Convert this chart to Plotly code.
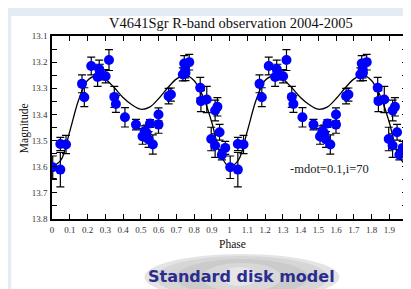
import numpy as np
import plotly.graph_objects as go

# ---- data (one cycle, phase 0-1; chart shows it folded twice) ----
obs_phase = [0.004, 0.047, 0.047, 0.079, 0.169, 0.182, 0.221, 0.257, 0.266, 0.270,
             0.302, 0.321, 0.351, 0.360, 0.411, 0.473, 0.510, 0.523, 0.533, 0.544,
             0.552, 0.568, 0.600, 0.600, 0.657, 0.670, 0.737, 0.745, 0.750, 0.752,
             0.773, 0.835, 0.839, 0.872, 0.897, 0.919, 0.932, 0.919, 0.944, 0.957,
             0.976]
obs_mag = [13.602, 13.611, 13.513, 13.515, 13.283, 13.334, 13.215, 13.257, 13.226, 13.238,
           13.254, 13.192, 13.333, 13.360, 13.411, 13.439, 13.484, 13.464, 13.471, 13.496,
           13.435, 13.515, 13.400, 13.439, 13.330, 13.324, 13.247, 13.205, 13.230, 13.241,
           13.200, 13.298, 13.349, 13.343, 13.494, 13.385, 13.371, 13.519, 13.468, 13.554,
           13.528]
obs_err = [0.043, 0.066, 0.025, 0.035, 0.034, 0.036, 0.034, 0.036, 0.034, 0.030,
           0.025, 0.040, 0.040, 0.032, 0.037, 0.020, 0.030, 0.020, 0.030, 0.030,
           0.015, 0.037, 0.025, 0.033, 0.030, 0.025, 0.025, 0.030, 0.030, 0.030,
           0.030, 0.040, 0.040, 0.050, 0.045, 0.040, 0.035, 0.045, 0.030, 0.020,
           0.025]

model_phase = [0.00, 0.05, 0.10, 0.15, 0.20, 0.25, 0.30, 0.35, 0.40, 0.45, 0.50,
               0.55, 0.60, 0.65, 0.70, 0.75, 0.80, 0.85, 0.90, 0.95, 1.00]
model_mag = [13.600, 13.575, 13.465, 13.345, 13.270, 13.253, 13.265, 13.297, 13.335, 13.363, 13.380,
             13.372, 13.340, 13.300, 13.265, 13.250, 13.270, 13.330, 13.430, 13.555, 13.600]

x_tick_vals = [0, 0.1, 0.2, 0.3, 0.4, 0.5, 0.6, 0.7, 0.8, 0.9, 1, 1.1, 1.2, 1.3, 1.4,
               1.5, 1.6, 1.7, 1.8, 1.9, 2]
x_tick_text = ["0", "0.1", "0.2", "0.3", "0.4", "0.5", "0.6", "0.7", "0.8", "0.9", "1",
               "1.1", "1.2", "1.3", "1.4", "1.5", "1.6", "1.7", "1.8", "1.9", "2"]
y_tick_vals = [13.1, 13.2, 13.3, 13.4, 13.5, 13.6, 13.7, 13.8]
y_tick_text = ["13.1", "13.2", "13.3", "13.4", "13.5", "13.6", "13.7", "13.8"]

title_text = "V4641Sgr R-band observation 2004-2005"
label_text = "-mdot=0.1,i=70"
banner_text = "Standard disk model"

# ---- fold twice ----
p = np.array(obs_phase); m = np.array(obs_mag); e = np.array(obs_err)
p2 = p + 1
keep = p2 <= 2.0
all_p = np.concatenate([p, p2[keep]])
all_m = np.concatenate([m, m[keep]])
all_e = np.concatenate([e, e[keep]])

mp = np.array(model_phase); mm = np.array(model_mag)
all_mp = np.concatenate([mp, mp[1:] + 1])
all_mm = np.concatenate([mm, mm[1:]])

serif = "Liberation Serif, Times New Roman, serif"

fig = go.Figure()
fig.add_trace(go.Scatter(x=all_mp, y=all_mm, mode="lines",
                         line=dict(color="black", width=1.3, shape="spline", smoothing=1.0),
                         hoverinfo="skip", showlegend=False))
fig.add_trace(go.Scatter(x=all_p, y=all_m, mode="markers",
                         marker=dict(color="#0000ff", size=10, line=dict(width=0)),
                         error_y=dict(type="data", array=all_e, visible=True,
                                      color="black", thickness=1.2, width=4),
                         showlegend=False))

W, H = 411, 289
ml, mr, mt, mb = 44, 10, 28, 78
pw, ph = W - ml - mr, H - mt - mb
def px(xp): return (xp - ml) / pw
def py(yp): return 1 - (yp - mt) / ph

shapes = [
    dict(type="rect", xref="paper", yref="paper", x0=px(3), x1=px(402), y0=py(290), y1=py(8),
         fillcolor="white", line=dict(width=0), layer="below"),
]
# layered ellipses for the banner backdrop
ell = [(137, 333, 246, 292, "#e4e4e4"), (148, 322, 248, 291, "#d6d6d6"),
       (168, 302, 251, 288, "#cbcbcb"), (195, 275, 255, 284, "#d8d8d8"),
       (215, 250, 259, 278, "#e6e6e6")]
for x0, x1, y0, y1, c in ell:
    shapes.append(dict(type="circle", xref="paper", yref="paper",
                       x0=px(x0), x1=px(x1), y0=py(y1), y1=py(y0),
                       fillcolor=c, line=dict(width=0), layer="below"))

annotations = [
    dict(text=title_text, xref="paper", yref="paper", x=px(224), y=py(15),
         showarrow=False, font=dict(family=serif, size=14.5, color="#111"),
         xanchor="center", yanchor="middle"),
    dict(text="Magnitude", xref="paper", yref="paper", x=px(16), y=py(120),
         showarrow=False, textangle=-90, font=dict(family=serif, size=11.5, color="#111"),
         xanchor="center", yanchor="middle"),
    dict(text="Phase", xref="paper", yref="paper", x=px(226), y=py(236),
         showarrow=False, font=dict(family=serif, size=11.5, color="#111"),
         xanchor="center", yanchor="middle"),
    dict(text=label_text, xref="paper", yref="paper", x=px(323), y=py(161),
         showarrow=False, font=dict(family=serif, size=12.5, color="#222"),
         xanchor="center", yanchor="middle"),
    dict(text="<b>" + banner_text + "</b>", xref="paper", yref="paper", x=px(235), y=py(268),
         showarrow=False, font=dict(family="DejaVu Sans, Verdana, sans-serif", size=16, color="#2b2d8e"),
         xanchor="center", yanchor="middle"),
]

axis_common = dict(showline=True, linecolor="black", linewidth=1.5, mirror="allticks",
                   ticks="inside", ticklen=5, tickwidth=1, tickcolor="black",
                   showgrid=False, zeroline=False,
                   tickfont=dict(family=serif, size=9, color="#333"))

fig.update_layout(
    width=W, height=H, margin=dict(l=ml, r=mr, t=mt, b=mb),
    paper_bgcolor="#e3ebf5", plot_bgcolor="white",
    shapes=shapes, annotations=annotations,
    xaxis=dict(range=[0, 2], tickmode="array", tickvals=x_tick_vals, ticktext=x_tick_text,
               ticklabelstandoff=1, **axis_common),
    yaxis=dict(range=[13.8, 13.1], tickmode="array", tickvals=y_tick_vals, ticktext=y_tick_text,
               minor=dict(dtick=0.05, ticks="inside", ticklen=5, tickcolor="black"),
               ticklabelstandoff=1, **axis_common),
)

fig.write_html("out.html")
